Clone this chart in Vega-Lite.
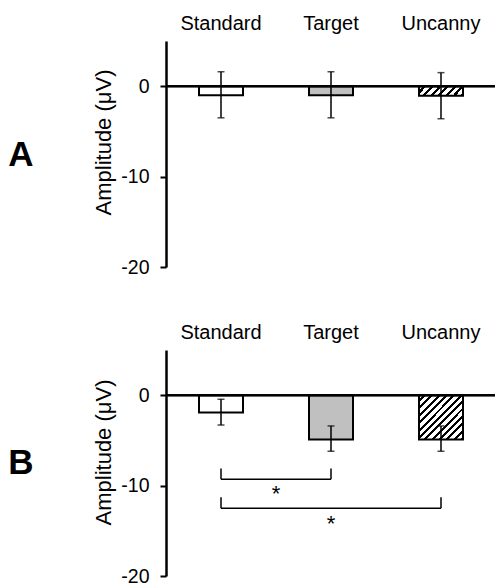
{
  "$schema": "https://vega.github.io/schema/vega-lite/v6.json",
  "padding": {"left": 8, "top": 13, "right": 0, "bottom": 0},
  "background": "white",
  "bounds": "flush",
  "spacing": 83,
  "config": {
    "font": "Liberation Sans",
    "view": {"stroke": null},
    "axis": {"labelFont": "Liberation Sans", "titleFont": "Liberation Sans", "labelColor": "black", "titleColor": "black"},
    "title": {"font": "Liberation Sans"}
  },
  "datasets": {
    "barsA": [
      {"cat": "Standard", "mean": -1.0, "lo": -3.5, "hi": 1.6},
      {"cat": "Target", "mean": -1.0, "lo": -3.5, "hi": 1.6},
      {"cat": "Uncanny", "mean": -1.05, "lo": -3.6, "hi": 1.5}
    ],
    "barsB": [
      {"cat": "Standard", "mean": -1.9, "lo": -3.3, "hi": -0.45},
      {"cat": "Target", "mean": -4.9, "lo": -6.2, "hi": -3.4},
      {"cat": "Uncanny", "mean": -4.9, "lo": -6.2, "hi": -3.4}
    ],
    "brackets": [
      {"from": "Standard", "to": "Target", "ytop": -8.1, "ybar": -9.3},
      {"from": "Standard", "to": "Uncanny", "ytop": -11.3, "ybar": -12.5}
    ]
  },
  "vconcat": [
    {
      "width": 330,
      "height": 226,
      "title": {"text": "A", "orient": "left", "angle": 0, "fontSize": 35, "fontWeight": "bold", "anchor": "middle", "align": "right", "baseline": "middle", "offset": 34, "dy": 1, "color": "black"},
      "data": {"name": "barsA"},
      "layer": [
        {
          "transform": [{"filter": "datum.cat != 'Uncanny'"}],
          "mark": {"type": "bar", "width": {"band": 0.4}, "stroke": "black", "strokeWidth": 2},
          "encoding": {
            "x": {"field": "cat", "type": "nominal", "scale": {"domain": ["Standard", "Target", "Uncanny"], "paddingInner": 0, "paddingOuter": 0},
                  "axis": {"orient": "top", "title": null, "domain": false, "ticks": false, "labelAngle": 0, "labelFontSize": 20, "labelPadding": 8}},
            "y": {"field": "mean", "type": "quantitative", "scale": {"domain": [-20, 5], "nice": false, "zero": false},
                  "axis": {"values": [0, -10, -20], "labelExpr": "'' + datum.value", "labelFontSize": 19.5, "labelPadding": 11, "tickSize": 6, "tickWidth": 2, "tickColor": "black", "domainColor": "black", "domainWidth": 2.5, "grid": false,
                           "title": "Amplitude (μV)", "titleFontSize": 22, "titleFontWeight": "normal", "titlePadding": 5, "titleY": 101}},
            "fill": {"field": "cat", "type": "nominal", "scale": {"domain": ["Standard", "Target"], "range": ["#ffffff", "#c0c0c0"]}, "legend": null}
          }
        },
        {
          "transform": [{"filter": "datum.cat == 'Uncanny'"}],
          "mark": {"type": "bar", "width": {"band": 0.4}, "stroke": "black", "strokeWidth": 2,
                   "fill": {"gradient": "linear", "x1": 0, "y1": 0, "x2": 1.156, "y2": 0.236, "stops": [
                     {"offset": 0, "color": "white"}, {"offset": 0.0857, "color": "white"}, {"offset": 0.0857, "color": "black"}, {"offset": 0.1429, "color": "black"},
                     {"offset": 0.1429, "color": "white"}, {"offset": 0.2286, "color": "white"}, {"offset": 0.2286, "color": "black"}, {"offset": 0.2857, "color": "black"},
                     {"offset": 0.2857, "color": "white"}, {"offset": 0.3714, "color": "white"}, {"offset": 0.3714, "color": "black"}, {"offset": 0.4286, "color": "black"},
                     {"offset": 0.4286, "color": "white"}, {"offset": 0.5143, "color": "white"}, {"offset": 0.5143, "color": "black"}, {"offset": 0.5714, "color": "black"},
                     {"offset": 0.5714, "color": "white"}, {"offset": 0.6571, "color": "white"}, {"offset": 0.6571, "color": "black"}, {"offset": 0.7143, "color": "black"},
                     {"offset": 0.7143, "color": "white"}, {"offset": 0.8, "color": "white"}, {"offset": 0.8, "color": "black"}, {"offset": 0.8571, "color": "black"},
                     {"offset": 0.8571, "color": "white"}, {"offset": 0.9429, "color": "white"}, {"offset": 0.9429, "color": "black"}, {"offset": 1, "color": "black"}
                   ]}},
          "encoding": {
            "x": {"field": "cat", "type": "nominal"},
            "y": {"field": "mean", "type": "quantitative"}
          }
        },
        {
          "mark": {"type": "rule", "color": "black", "strokeWidth": 1.5},
          "encoding": {
            "x": {"field": "cat", "type": "nominal"},
            "y": {"field": "lo", "type": "quantitative"},
            "y2": {"field": "hi"}
          }
        },
        {
          "mark": {"type": "tick", "color": "black", "size": 7, "thickness": 1.5},
          "encoding": {
            "x": {"field": "cat", "type": "nominal"},
            "y": {"field": "lo", "type": "quantitative"}
          }
        },
        {
          "mark": {"type": "tick", "color": "black", "size": 7, "thickness": 1.5},
          "encoding": {
            "x": {"field": "cat", "type": "nominal"},
            "y": {"field": "hi", "type": "quantitative"}
          }
        },
        {
          "mark": {"type": "rule", "color": "black", "strokeWidth": 2},
          "encoding": {"y": {"datum": 0, "type": "quantitative"}}
        }
      ]
    },
    {
      "width": 330,
      "height": 226,
      "title": {"text": "B", "orient": "left", "angle": 0, "fontSize": 35, "fontWeight": "bold", "anchor": "middle", "align": "right", "baseline": "middle", "offset": 34, "dy": 0, "color": "black"},
      "layer": [
        {
          "data": {"name": "barsB"},
          "transform": [{"filter": "datum.cat != 'Uncanny'"}],
          "mark": {"type": "bar", "width": {"band": 0.4}, "stroke": "black", "strokeWidth": 2},
          "encoding": {
            "x": {"field": "cat", "type": "nominal", "scale": {"domain": ["Standard", "Target", "Uncanny"], "paddingInner": 0, "paddingOuter": 0},
                  "axis": {"orient": "top", "title": null, "domain": false, "ticks": false, "labelAngle": 0, "labelFontSize": 20, "labelPadding": 8}},
            "y": {"field": "mean", "type": "quantitative", "scale": {"domain": [-20, 5], "nice": false, "zero": false},
                  "axis": {"values": [0, -10, -20], "labelExpr": "'' + datum.value", "labelFontSize": 19.5, "labelPadding": 11, "tickSize": 6, "tickWidth": 2, "tickColor": "black", "domainColor": "black", "domainWidth": 2.5, "grid": false,
                           "title": "Amplitude (μV)", "titleFontSize": 22, "titleFontWeight": "normal", "titlePadding": 5, "titleY": 102}},
            "fill": {"field": "cat", "type": "nominal", "scale": {"domain": ["Standard", "Target"], "range": ["#ffffff", "#c0c0c0"]}, "legend": null}
          }
        },
        {
          "data": {"name": "barsB"},
          "transform": [{"filter": "datum.cat == 'Uncanny'"}],
          "mark": {"type": "bar", "width": {"band": 0.4}, "stroke": "black", "strokeWidth": 2,
                   "fill": {"gradient": "linear", "x1": 0, "y1": 0, "x2": 1, "y2": 1, "stops": [
                     {"offset": 0, "color": "white"}, {"offset": 0.05, "color": "white"}, {"offset": 0.05, "color": "black"}, {"offset": 0.0833, "color": "black"},
                     {"offset": 0.0833, "color": "white"}, {"offset": 0.1333, "color": "white"}, {"offset": 0.1333, "color": "black"}, {"offset": 0.1667, "color": "black"},
                     {"offset": 0.1667, "color": "white"}, {"offset": 0.2167, "color": "white"}, {"offset": 0.2167, "color": "black"}, {"offset": 0.25, "color": "black"},
                     {"offset": 0.25, "color": "white"}, {"offset": 0.3, "color": "white"}, {"offset": 0.3, "color": "black"}, {"offset": 0.3333, "color": "black"},
                     {"offset": 0.3333, "color": "white"}, {"offset": 0.3833, "color": "white"}, {"offset": 0.3833, "color": "black"}, {"offset": 0.4167, "color": "black"},
                     {"offset": 0.4167, "color": "white"}, {"offset": 0.4667, "color": "white"}, {"offset": 0.4667, "color": "black"}, {"offset": 0.5, "color": "black"},
                     {"offset": 0.5, "color": "white"}, {"offset": 0.55, "color": "white"}, {"offset": 0.55, "color": "black"}, {"offset": 0.5833, "color": "black"},
                     {"offset": 0.5833, "color": "white"}, {"offset": 0.6333, "color": "white"}, {"offset": 0.6333, "color": "black"}, {"offset": 0.6667, "color": "black"},
                     {"offset": 0.6667, "color": "white"}, {"offset": 0.7167, "color": "white"}, {"offset": 0.7167, "color": "black"}, {"offset": 0.75, "color": "black"},
                     {"offset": 0.75, "color": "white"}, {"offset": 0.8, "color": "white"}, {"offset": 0.8, "color": "black"}, {"offset": 0.8333, "color": "black"},
                     {"offset": 0.8333, "color": "white"}, {"offset": 0.8833, "color": "white"}, {"offset": 0.8833, "color": "black"}, {"offset": 0.9167, "color": "black"},
                     {"offset": 0.9167, "color": "white"}, {"offset": 0.9667, "color": "white"}, {"offset": 0.9667, "color": "black"}, {"offset": 1, "color": "black"}
                   ]}},
          "encoding": {
            "x": {"field": "cat", "type": "nominal"},
            "y": {"field": "mean", "type": "quantitative"}
          }
        },
        {
          "data": {"name": "barsB"},
          "mark": {"type": "rule", "color": "black", "strokeWidth": 1.5},
          "encoding": {
            "x": {"field": "cat", "type": "nominal"},
            "y": {"field": "lo", "type": "quantitative"},
            "y2": {"field": "hi"}
          }
        },
        {
          "data": {"name": "barsB"},
          "mark": {"type": "tick", "color": "black", "size": 7, "thickness": 1.5},
          "encoding": {
            "x": {"field": "cat", "type": "nominal"},
            "y": {"field": "lo", "type": "quantitative"}
          }
        },
        {
          "data": {"name": "barsB"},
          "mark": {"type": "tick", "color": "black", "size": 7, "thickness": 1.5},
          "encoding": {
            "x": {"field": "cat", "type": "nominal"},
            "y": {"field": "hi", "type": "quantitative"}
          }
        },
        {
          "data": {"name": "barsB"},
          "mark": {"type": "rule", "color": "black", "strokeWidth": 2},
          "encoding": {"y": {"datum": 0, "type": "quantitative"}}
        },
        {
          "data": {"name": "brackets"},
          "mark": {"type": "rule", "color": "black", "strokeWidth": 1.5},
          "encoding": {
            "x": {"field": "from", "type": "nominal"},
            "x2": {"field": "to"},
            "y": {"field": "ybar", "type": "quantitative"}
          }
        },
        {
          "data": {"name": "brackets"},
          "mark": {"type": "rule", "color": "black", "strokeWidth": 1.5},
          "encoding": {
            "x": {"field": "from", "type": "nominal"},
            "y": {"field": "ytop", "type": "quantitative"},
            "y2": {"field": "ybar"}
          }
        },
        {
          "data": {"name": "brackets"},
          "mark": {"type": "rule", "color": "black", "strokeWidth": 1.5},
          "encoding": {
            "x": {"field": "to", "type": "nominal"},
            "y": {"field": "ytop", "type": "quantitative"},
            "y2": {"field": "ybar"}
          }
        },
        {
          "data": {"values": [{"cat": "Standard", "y": -10.9, "label": "*"}]},
          "mark": {"type": "text", "fontSize": 22, "baseline": "middle", "align": "center", "color": "black"},
          "encoding": {
            "x": {"field": "cat", "type": "nominal", "bandPosition": 1},
            "y": {"field": "y", "type": "quantitative"},
            "text": {"field": "label"}
          }
        },
        {
          "data": {"values": [{"cat": "Target", "y": -14.2, "label": "*"}]},
          "mark": {"type": "text", "fontSize": 22, "baseline": "middle", "align": "center", "color": "black"},
          "encoding": {
            "x": {"field": "cat", "type": "nominal"},
            "y": {"field": "y", "type": "quantitative"},
            "text": {"field": "label"}
          }
        }
      ]
    }
  ]
}
